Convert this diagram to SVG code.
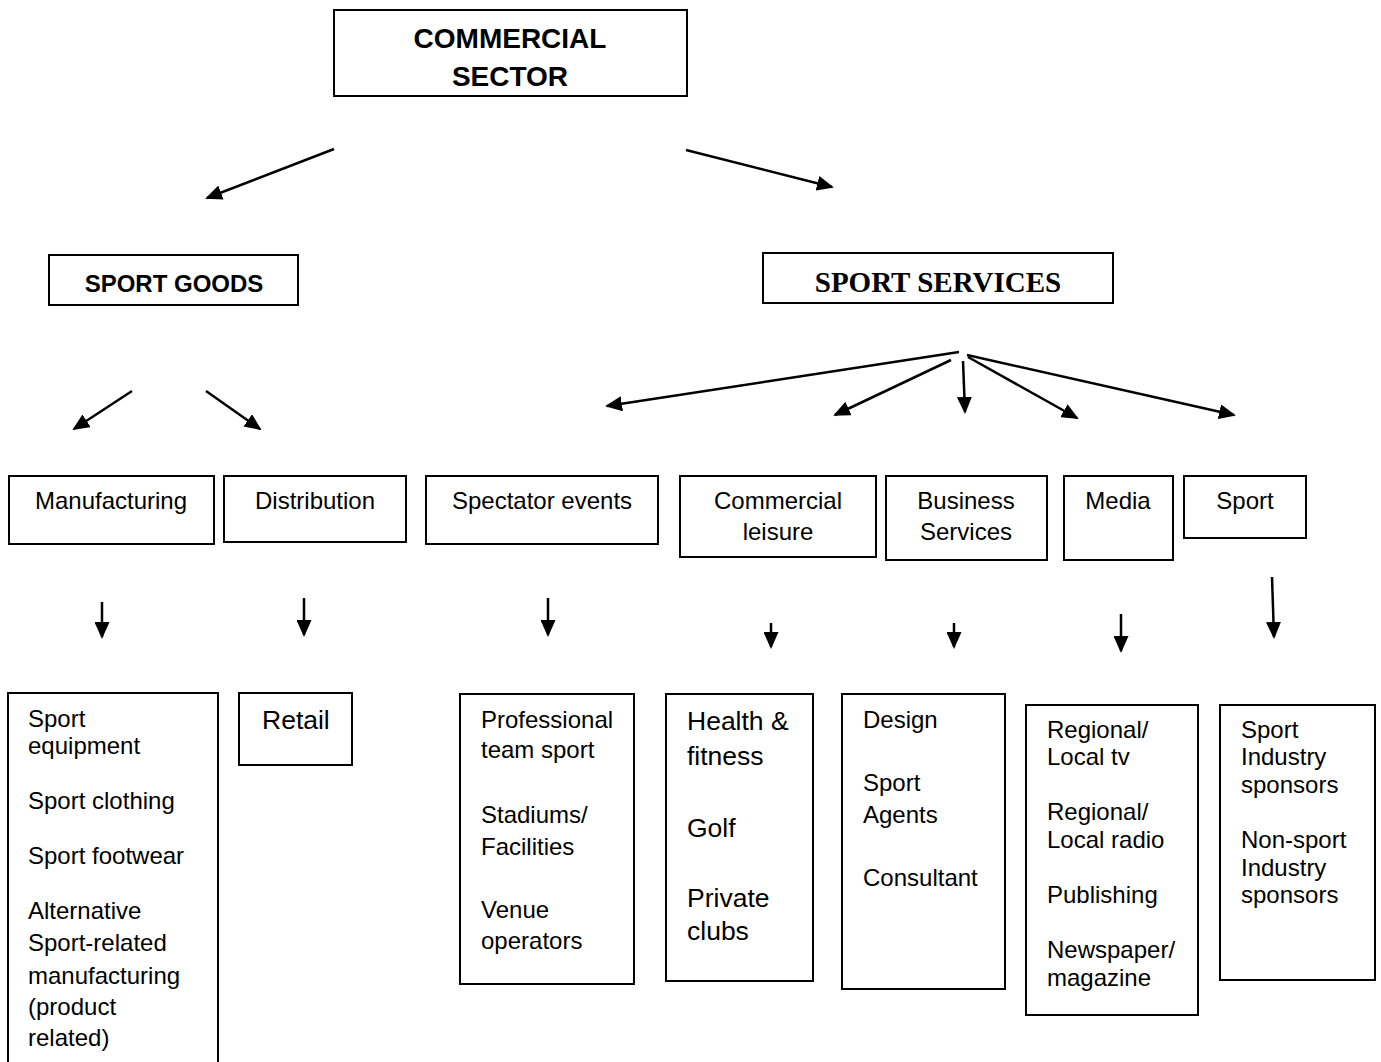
<svg xmlns="http://www.w3.org/2000/svg" width="1381" height="1062" viewBox="0 0 1381 1062">
<style>
.box{fill:#fff;stroke:#000;stroke-width:2}
.t{font-family:"Liberation Sans",Arial,sans-serif;font-size:24px;fill:#000}
.tl{font-family:"Liberation Sans",Arial,sans-serif;font-size:26.5px;fill:#000}
.h1{font-family:"Liberation Sans",Arial,sans-serif;font-size:28px;font-weight:bold;fill:#000}
.h2{font-family:"Liberation Sans",Arial,sans-serif;font-size:24px;font-weight:bold;fill:#000}
.h3{font-family:"Liberation Serif","Times New Roman",serif;font-size:29px;font-weight:bold;fill:#000}
.c{text-anchor:middle}
.ar{stroke:#000;stroke-width:2.5;fill:none;marker-end:url(#ah)}
</style>
<defs>
<marker id="ah" markerUnits="userSpaceOnUse" markerWidth="17" markerHeight="15" refX="15" refY="7.5" orient="auto">
<path d="M0,0 L17,7.5 L0,15 z" fill="#000"/>
</marker>
</defs>
<rect width="1381" height="1062" fill="#fff"/>

<g id="commercial-sector">
<rect class="box" x="334" y="10" width="353" height="86"/>
<text class="h1 c" x="510" y="48">COMMERCIAL</text>
<text class="h1 c" x="510" y="86">SECTOR</text>
</g>

<g id="sport-goods">
<rect class="box" x="49" y="255" width="249" height="50"/>
<text class="h2 c" x="174" y="292">SPORT GOODS</text>
</g>

<g id="sport-services">
<rect class="box" x="763" y="253" width="350" height="50"/>
<text class="h3 c" x="938" y="292">SPORT SERVICES</text>
</g>

<g id="manufacturing">
<rect class="box" x="9" y="476" width="205" height="68"/>
<text class="t c" x="111" y="509">Manufacturing</text>
</g>
<g id="distribution">
<rect class="box" x="224" y="476" width="182" height="66"/>
<text class="t c" x="315" y="509">Distribution</text>
</g>
<g id="spectator-events">
<rect class="box" x="426" y="476" width="232" height="68"/>
<text class="t c" x="542" y="509">Spectator events</text>
</g>
<g id="commercial-leisure">
<rect class="box" x="680" y="476" width="196" height="81"/>
<text class="t c" x="778" y="509">Commercial</text>
<text class="t c" x="778" y="540">leisure</text>
</g>
<g id="business-services">
<rect class="box" x="886" y="476" width="161" height="84"/>
<text class="t c" x="966" y="509">Business</text>
<text class="t c" x="966" y="540">Services</text>
</g>
<g id="media">
<rect class="box" x="1064" y="476" width="109" height="84"/>
<text class="t c" x="1118" y="509">Media</text>
</g>
<g id="sport">
<rect class="box" x="1184" y="476" width="122" height="62"/>
<text class="t c" x="1245" y="509">Sport</text>
</g>

<g id="manufacturing-list">
<path class="box" d="M8,1062 V693 H218 V1062" fill="none"/>
<text class="t" x="28" y="727">Sport</text>
<text class="t" x="28" y="754">equipment</text>
<text class="t" x="28" y="809">Sport clothing</text>
<text class="t" x="28" y="864">Sport footwear</text>
<text class="t" x="28" y="919">Alternative</text>
<text class="t" x="28" y="951">Sport-related</text>
<text class="t" x="28" y="984">manufacturing</text>
<text class="t" x="28" y="1015">(product</text>
<text class="t" x="28" y="1046">related)</text>
</g>
<g id="retail">
<rect class="box" x="239" y="693" width="113" height="72"/>
<text class="tl" x="262" y="729">Retail</text>
</g>
<g id="spectator-list">
<rect class="box" x="460" y="694" width="174" height="290"/>
<text class="t" x="481" y="728">Professional</text>
<text class="t" x="481" y="758">team sport</text>
<text class="t" x="481" y="823">Stadiums/</text>
<text class="t" x="481" y="855">Facilities</text>
<text class="t" x="481" y="918">Venue</text>
<text class="t" x="481" y="949">operators</text>
</g>
<g id="leisure-list">
<rect class="box" x="666" y="694" width="147" height="287"/>
<text class="tl" x="687" y="730">Health &amp;</text>
<text class="tl" x="687" y="765">fitness</text>
<text class="tl" x="687" y="837">Golf</text>
<text class="tl" x="687" y="907">Private</text>
<text class="tl" x="687" y="940">clubs</text>
</g>
<g id="business-list">
<rect class="box" x="842" y="694" width="163" height="295"/>
<text class="t" x="863" y="728">Design</text>
<text class="t" x="863" y="791">Sport</text>
<text class="t" x="863" y="823">Agents</text>
<text class="t" x="863" y="886">Consultant</text>
</g>
<g id="media-list">
<rect class="box" x="1026" y="705" width="172" height="310"/>
<text class="t" x="1047" y="738">Regional/</text>
<text class="t" x="1047" y="765">Local tv</text>
<text class="t" x="1047" y="820">Regional/</text>
<text class="t" x="1047" y="848">Local radio</text>
<text class="t" x="1047" y="903">Publishing</text>
<text class="t" x="1047" y="958">Newspaper/</text>
<text class="t" x="1047" y="986">magazine</text>
</g>
<g id="sport-list">
<rect class="box" x="1220" y="705" width="155" height="275"/>
<text class="t" x="1241" y="738">Sport</text>
<text class="t" x="1241" y="765">Industry</text>
<text class="t" x="1241" y="793">sponsors</text>
<text class="t" x="1241" y="848">Non-sport</text>
<text class="t" x="1241" y="876">Industry</text>
<text class="t" x="1241" y="903">sponsors</text>
</g>

<g id="connectors">
<line class="ar" x1="334" y1="149" x2="207" y2="198"/>
<line class="ar" x1="686" y1="150" x2="832" y2="187"/>
<line class="ar" x1="132" y1="391" x2="74" y2="429"/>
<line class="ar" x1="206" y1="391" x2="260" y2="429"/>
<line class="ar" x1="959" y1="352" x2="607" y2="406"/>
<line class="ar" x1="951" y1="360" x2="835" y2="415"/>
<line class="ar" x1="963" y1="361" x2="965" y2="412"/>
<line class="ar" x1="968" y1="357" x2="1077" y2="418"/>
<line class="ar" x1="967" y1="355" x2="1234" y2="415"/>
<line class="ar" x1="102" y1="602" x2="102" y2="637"/>
<line class="ar" x1="304" y1="598" x2="304" y2="635"/>
<line class="ar" x1="548" y1="598" x2="548" y2="635"/>
<line class="ar" x1="771" y1="623" x2="771" y2="647"/>
<line class="ar" x1="954" y1="623" x2="954" y2="647"/>
<line class="ar" x1="1121" y1="614" x2="1121" y2="651"/>
<line class="ar" x1="1272" y1="577" x2="1274" y2="637"/>
</g>
</svg>
